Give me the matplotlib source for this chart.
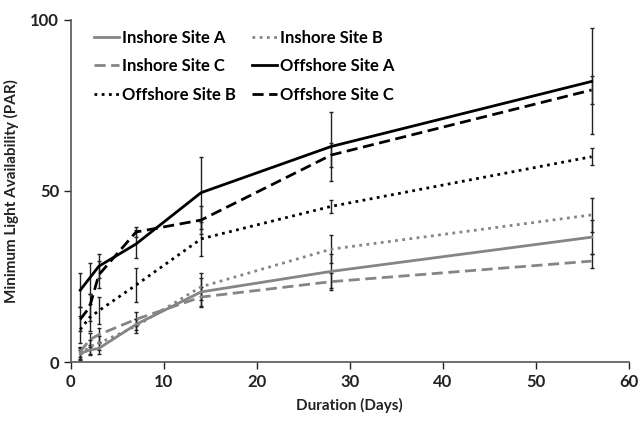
import numpy as np
import matplotlib.pyplot as plt

plt.rcParams['font.family'] = ['Lato', 'DejaVu Sans']
plt.rcParams['font.weight'] = 'bold'

days = [1, 2, 3, 7, 14, 28, 56]

inshore_a = [2.5, 3.5, 4.0, 11.0, 20.5, 26.5, 36.5]
inshore_a_err = [1.5, 1.5, 1.5, 1.5, 4.0, 5.0, 5.0]
inshore_b = [2.0, 4.5, 5.5, 10.5, 22.0, 33.0, 43.0]
inshore_b_err = [1.5, 2.0, 2.0, 2.0, 4.0, 4.0, 5.0]
inshore_c = [3.0, 6.5, 8.0, 12.5, 19.0, 23.5, 29.5]
inshore_c_err = [1.5, 2.0, 2.0, 2.0, 3.0, 2.5, 2.0]
offshore_a = [21.0, 24.5, 28.0, 34.5, 49.5, 63.0, 82.0]
offshore_a_err = [5.0, 4.5, 3.5, 4.0, 10.5, 10.0, 15.5]
offshore_b = [9.5, 13.0, 15.0, 22.5, 36.0, 45.5, 60.0]
offshore_b_err = [4.0, 4.0, 4.0, 5.0, 5.0, 2.0, 2.5]
offshore_c = [12.5, 16.0, 25.5, 38.0, 41.5, 60.5, 79.5]
offshore_c_err = [3.5, 4.0, 4.0, 1.5, 4.0, 3.5, 4.0]

grey = '#858585'
fig = plt.figure(figsize=(6.39, 4.22), dpi=100)
ax = fig.add_axes([0.111, 0.142, 0.873, 0.811])

series = [
    ('Inshore Site A', inshore_a, inshore_a_err, grey, '-'),
    ('Inshore Site B', inshore_b, inshore_b_err, grey, (0, (1, 1.6))),
    ('Inshore Site C', inshore_c, inshore_c_err, grey, (0, (4, 2))),
    ('Offshore Site A', offshore_a, offshore_a_err, 'black', '-'),
    ('Offshore Site B', offshore_b, offshore_b_err, 'black', (0, (1, 1.6))),
    ('Offshore Site C', offshore_c, offshore_c_err, 'black', (0, (4, 2))),
]

handles = {}
for name, vals, err, col, ls in series:
    ax.errorbar(days, vals, yerr=err, fmt='none', ecolor='#222222',
                elinewidth=1, capsize=1.5, capthick=1, zorder=2)
    line, = ax.plot(days, vals, color=col, linestyle=ls, linewidth=2, zorder=3)
    handles[name] = line

order = ['Inshore Site A', 'Inshore Site C', 'Offshore Site B',
         'Inshore Site B', 'Offshore Site A', 'Offshore Site C']
ax.legend([handles[n] for n in order], order, ncol=2, frameon=False,
          loc='upper left', bbox_to_anchor=(0.015, 1.015), handlelength=1.5,
          handletextpad=0.15, columnspacing=1.0, labelspacing=0.75,
          prop={'size': 12, 'weight': 'bold'})

ax.set_xlim(0, 60)
ax.set_ylim(0, 100)
ax.set_xticks(range(0, 61, 10))
ax.set_yticks([0, 50, 100])
ax.tick_params(direction='out', length=5, width=1, labelsize=12, colors='#222222')
for lab in ax.get_xticklabels() + ax.get_yticklabels():
    lab.set_fontweight('bold')
for s in ['top', 'right']:
    ax.spines[s].set_visible(False)
for s in ['left', 'bottom']:
    ax.spines[s].set_color('#555555')
    ax.spines[s].set_linewidth(1.2)

ax.set_xlabel('Duration (Days)', fontsize=11, fontweight='bold', color='#222222', labelpad=6)
ax.set_ylabel('Minimum Light Availability (PAR)', fontsize=11, fontweight='bold', color='#222222', labelpad=8)

fig.savefig('out.png', dpi=100)
